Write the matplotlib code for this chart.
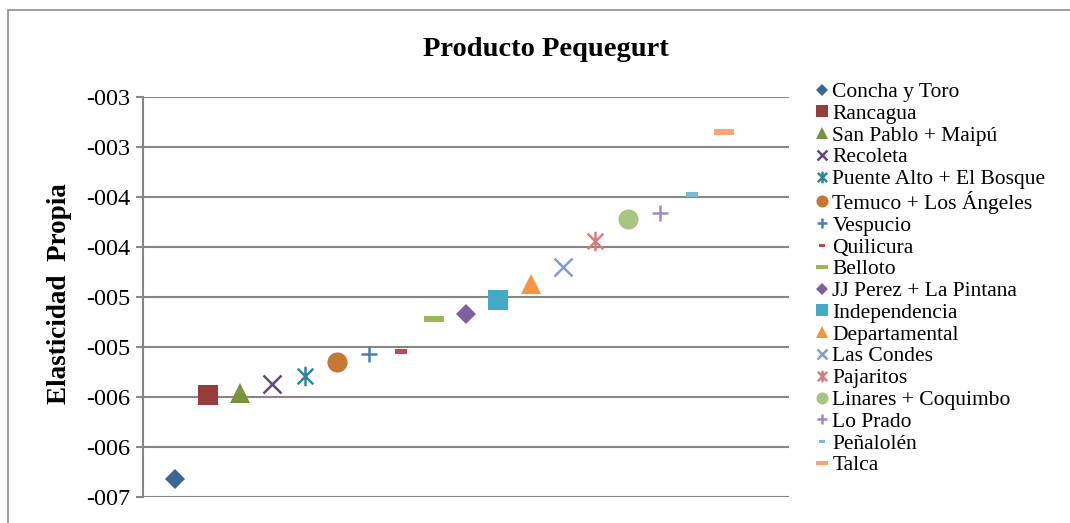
import matplotlib.pyplot as plt
from matplotlib.path import Path
from matplotlib.patches import Rectangle

# data
categories = ["Concha y Toro", "Rancagua", "San Pablo + Maipú", "Recoleta",
              "Puente Alto + El Bosque", "Temuco + Los Ángeles", "Vespucio",
              "Quilicura", "Belloto", "JJ Perez + La Pintana", "Independencia",
              "Departamental", "Las Condes", "Pajaritos", "Linares + Coquimbo",
              "Lo Prado", "Peñalolén", "Talca"]
elasticity = [-0.00632, -0.00548, -0.00546, -0.00537, -0.00529, -0.00515,
              -0.00507, -0.00504, -0.00472, -0.00467, -0.00453, -0.00437,
              -0.00420, -0.00394, -0.00372, -0.00366, -0.00347, -0.00285]
ytick_vals = [-0.0065, -0.0060, -0.0055, -0.0050, -0.0045, -0.0040, -0.0035, -0.0030, -0.0025]
ytick_labels = ["-007", "-006", "-006", "-005", "-005", "-004", "-004", "-003", "-003"]

colors = ["#3B6497", "#963C3A", "#77933C", "#5F4A7B", "#31859C", "#C47833",
          "#4A7EBB", "#BE4B48", "#98B954", "#7D60A0", "#46AAC5", "#F69240",
          "#7E9FD1", "#D47F7D", "#A9C581", "#A08CC0", "#76BDD3", "#F7A673"]

# excel-ish marker shapes
star = Path([(-0.8, -0.8), (0.8, 0.8), (-0.8, 0.8), (0.8, -0.8), (0, -1), (0, 1)],
            [Path.MOVETO, Path.LINETO, Path.MOVETO, Path.LINETO, Path.MOVETO, Path.LINETO])
short_dash = Path([(-1, -0.45), (1, -0.45), (1, 0.45), (-1, 0.45), (-1, -0.45)],
                  [Path.MOVETO, Path.LINETO, Path.LINETO, Path.LINETO, Path.CLOSEPOLY])
long_dash = Path([(-1, -0.28), (1, -0.28), (1, 0.28), (-1, 0.28), (-1, -0.28)],
                 [Path.MOVETO, Path.LINETO, Path.LINETO, Path.LINETO, Path.CLOSEPOLY])

base = [("D", 10.5, False), ("s", 14, False), ("^", 14, False), ("x", 13, True),
        (star, 14, True), ("o", 14.5, False), ("+", 12, True), (short_dash, 8, False),
        (long_dash, 15, False)]
styles = base + base  # series 10-18 repeat the shapes

plt.rcParams['font.family'] = ['Liberation Serif', 'DejaVu Serif']

fig = plt.figure(figsize=(10.7, 5.23), dpi=100)
ax = fig.add_axes([143/1070, 1 - 497/523, (789-143)/1070, (497-97)/523])

grid_col = "#868686"
for i, (name, val) in enumerate(zip(categories, elasticity)):
    mk, ms, is_line = styles[i]
    if is_line:
        ax.plot(i + 1, val, linestyle="none", marker=mk, markersize=ms,
                markeredgecolor=colors[i], markerfacecolor="none",
                markeredgewidth=1.8, label=name, clip_on=False)
    else:
        ax.plot(i + 1, val, linestyle="none", marker=mk, markersize=ms,
                color=colors[i], markeredgewidth=0, label=name, clip_on=False)

ax.set_xlim(0, 20)
ax.set_ylim(-0.0065, -0.0025)
ax.set_yticks(ytick_vals)
ax.set_yticklabels(ytick_labels, fontsize=17.5)
ax.set_xticks([])
ax.grid(axis="y", color=grid_col, linewidth=1.5)
ax.set_axisbelow(True)
for s in ["top", "right", "bottom"]:
    ax.spines[s].set_visible(False)
ax.spines["left"].set_color(grid_col)
ax.spines["left"].set_linewidth(1.5)
ax.tick_params(axis="y", color=grid_col, width=1.5, length=5, pad=4)

fig.text(546/1070, 1 - 50/523, "Producto Pequegurt", ha="center", va="center",
         fontsize=20.5, fontweight="bold")
fig.text(60/1070, 1 - 294/523, "Elasticidad  Propia", ha="center", va="center",
         rotation=90, fontsize=19.5, fontweight="bold")

leg = ax.legend(loc="upper left", bbox_to_anchor=(813/1070, 1 - 82/523),
                bbox_transform=fig.transFigure, frameon=False, fontsize=15.5,
                markerscale=0.6, handlelength=0.8, handletextpad=0.1,
                labelspacing=0.08, borderpad=0, borderaxespad=0)

# outer chart border (runs off the right and bottom edges)
fig.patches.append(Rectangle((8/1070, -0.1), 1.2, 1 - 10/523 + 0.1,
                             transform=fig.transFigure, fill=False,
                             edgecolor="#8C8C8C", linewidth=1.2))

fig.savefig("out.png", dpi=100)
